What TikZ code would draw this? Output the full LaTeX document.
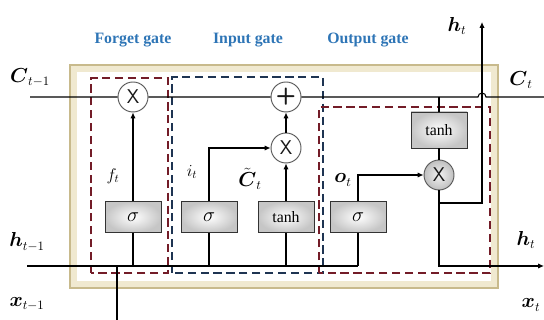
\documentclass[tikz,border=0pt]{standalone}
\usepackage{amsmath,amssymb}
\usepackage{fontspec}
\setmainfont{Liberation Serif}
\usepackage{tikz}
\usetikzlibrary{arrows.meta}
\usepackage{xcolor}
\definecolor{gateblue}{RGB}{46,117,182}
\definecolor{dashred}{RGB}{115,28,40}
\definecolor{dashblue}{RGB}{30,52,82}
\definecolor{framekhaki}{RGB}{200,186,140}
\definecolor{framecream}{RGB}{240,233,208}

\begin{document}
\begin{tikzpicture}[x=0.03cm,y=0.03cm,>={Latex[length=5pt,width=4.5pt]},line width=0.9pt,
  gatelbl/.style={text=gateblue,font=\fontsize{13.5}{15}\selectfont\bfseries},
  dashbox/.style={line width=1.3pt,dash pattern=on 7pt off 4pt},
  opcirc/.style={circle,draw=gray!70!black,fill=white,line width=0.8pt,minimum size=0.9cm,inner sep=0pt,
    font=\fontsize{17}{17}\selectfont\sffamily,text=gray!20!black},
  sigbox/.style={rectangle,draw=gray!40!black,line width=0.8pt,inner color=white,outer color=gray!45,
    minimum width=1.68cm,minimum height=0.93cm,inner sep=0pt,font=\fontsize{13.5}{15}\selectfont},
  var/.style={font=\fontsize{16}{18}\selectfont},
  svar/.style={font=\fontsize{14}{16}\selectfont}]
\useasboundingbox (0,0) rectangle (544,320);
% cell frame
\fill[framecream] (70,32) rectangle (498,255);
\fill[white] (77,39) rectangle (491,248);
\draw[framekhaki,line width=1.8pt] (70,32) rectangle (498,255);
% gate regions
\draw[dashbox,dashred] (91,47) rectangle (168,242);
\draw[dashbox,dashblue] (172,47) rectangle (323,243);
\draw[dashbox,dashred] (319,47) rectangle (490,213);
\node[gatelbl] (fg) at (133,280) {Forget gate};
\node[gatelbl] (ig) at (248,280) {Input gate};
\node[gatelbl] (og) at (368,280) {Output gate};
% operations
\node[opcirc] (fX) at (133,223) {X};
\node[opcirc,font=\fontsize{20}{20}\selectfont\sffamily\bfseries] (add) at (286,223) {+};
\node[opcirc] (iX) at (286,172) {X};
\node[opcirc,fill=none,inner color=gray!10,outer color=gray!50] (oX) at (439,145) {X};
\node[sigbox] (fs) at (133,103) {\fontsize{18}{18}\selectfont$\sigma$};
\node[sigbox] (is) at (209,103) {\fontsize{18}{18}\selectfont$\sigma$};
\node[sigbox] (it) at (286,103) {tanh};
\node[sigbox] (os) at (358,103) {\fontsize{18}{18}\selectfont$\sigma$};
\node[sigbox,minimum height=1.08cm] (ot) at (439,190) {tanh};
% ends
\coordinate (cin) at (30,223);
\coordinate (cout) at (544,223);
\coordinate (hin) at (27,54);
\coordinate (hend) at (358,54);
\coordinate (hout) at (544,54);
\coordinate (xin) at (117,0);
\coordinate (br) at (439,117);
\coordinate (htop) at (482,298);
% cell state
\draw (cin) -- (fX) -- (add) -- (478,223) arc (180:0:4) -- (cout);
% hidden input
\draw (hin) -- (hend);
\draw (xin) -- (xin |- hin);
\draw (fs.south) -- (fs.south |- hin);
\draw (is.south) -- (is.south |- hin);
\draw (it.south) -- (it.south |- hin);
\draw (os.south) -- (os.south |- hin);
% gates
\draw[->] (fs) -- (fX);
\draw[->] (is.north) |- (iX.west);
\draw[->] (it) -- (iX);
\draw[->] (iX) -- (add);
\draw[->] (os.north) |- (oX.west);
\draw (ot.north |- cin) -- (ot.north);
\draw (ot) -- (oX);
% output
\draw[->] (oX.south) |- (hout);
\draw[->] (br) -| (htop);
% labels
\node[var] (lc0) at (30,242) {$\boldsymbol{C}_{t-1}$};
\node[var] (lh0) at (27,78) {$\boldsymbol{h}_{t-1}$};
\node[var] (lx0) at (27,16) {$\boldsymbol{x}_{t-1}$};
\node[var] (lc1) at (521,240) {$\boldsymbol{C}_{t}$};
\node[var] (lh1) at (526,80) {$\boldsymbol{h}_{t}$};
\node[var] (lx1) at (531,15) {$\boldsymbol{x}_{t}$};
\node[var] (lht) at (457,294) {$\boldsymbol{h}_{t}$};
\node[svar] (lf) at (113,144) {$f_t$};
\node[svar] (li) at (192,148) {$i_t$};
\node[var,inner sep=1pt] (lct) at (250,141) {$\tilde{\boldsymbol{C}}_t$};
\node[var] (lo) at (343,140) {$\boldsymbol{o}_t$};
\end{tikzpicture}
\end{document}
